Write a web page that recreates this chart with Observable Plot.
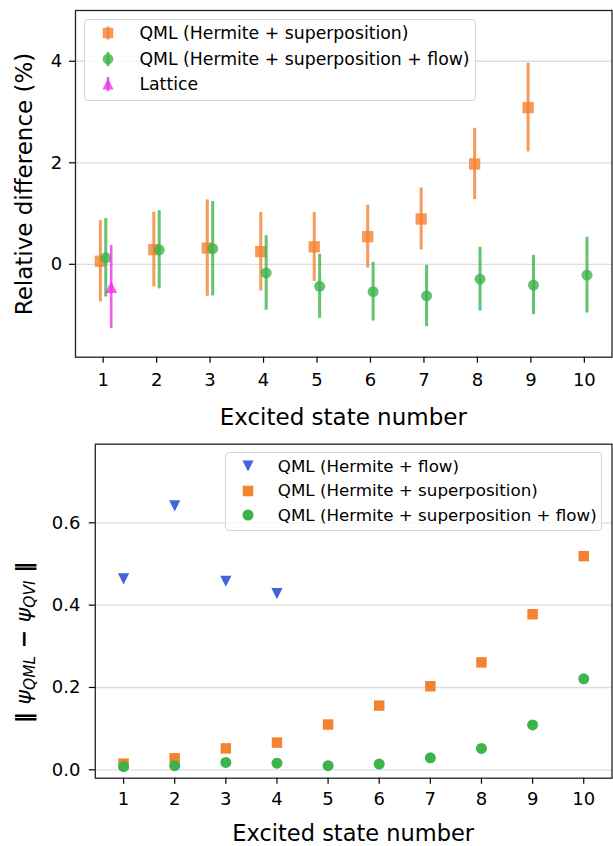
<!DOCTYPE html>
<html><head><meta charset="utf-8">
<script src="https://cdn.jsdelivr.net/npm/d3@7"></script>
<script src="https://cdn.jsdelivr.net/npm/@observablehq/plot@0.6"></script>
<style>
body{margin:0;background:#fff;font-family:"DejaVu Sans",sans-serif;}
#wrap{position:relative;width:613px;height:846px;overflow:hidden;}
#wrap svg.plot{position:absolute;left:0;}
.lg{position:absolute;border:1px solid #d4d4d4;border-radius:4px;background:rgba(255,255,255,0.8);box-sizing:border-box;}
.row{position:absolute;white-space:nowrap;color:#000;line-height:20px;height:20px;}
.sw{position:absolute;overflow:visible;}
</style></head><body><div id="wrap"></div><script>
// ---------- data ----------
const states = [1, 2, 3, 4, 5, 6, 7, 8, 9, 10];
// top panel: relative difference (%) with error bars
const supStates = [1, 2, 3, 4, 5, 6, 7, 8, 9];
const supVal = [0.06, 0.29, 0.32, 0.25, 0.345, 0.545, 0.893, 1.977, 3.087];
const supErr = [0.80, 0.736, 0.95, 0.775, 0.68, 0.62, 0.61, 0.703, 0.874];
const flowStates = [1, 2, 3, 4, 5, 6, 7, 8, 9, 10];
const flowVal = [0.128, 0.286, 0.308, -0.17, -0.434, -0.539, -0.624, -0.293, -0.408, -0.214];
const flowErr = [0.772, 0.77, 0.93, 0.735, 0.63, 0.578, 0.604, 0.628, 0.585, 0.745];
const latStates = [1];
const latVal = [-0.447];
const latErr = [0.82];
const yTicksTop = [0, 2, 4];
// bottom panel: || psi_QML - psi_QVI ||
const hfStates = [1, 2, 3, 4];
const hfVal = [0.464, 0.641, 0.458, 0.428];
const hsVal = [0.015, 0.028, 0.052, 0.066, 0.110, 0.156, 0.203, 0.261, 0.378, 0.519];
const hsfVal = [0.008, 0.010, 0.018, 0.016, 0.010, 0.014, 0.029, 0.052, 0.109, 0.221];
const yTicksBot = [0.0, 0.2, 0.4, 0.6];
const legTop = ["QML (Hermite + superposition)", "QML (Hermite + superposition + flow)", "Lattice"];
const legBot = ["QML (Hermite + flow)", "QML (Hermite + superposition)", "QML (Hermite + superposition + flow)"];

// ---------- style ----------
const ORANGE = "#f58231", GREEN = "#3cb44b", MAGENTA = "#f032e6", BLUE = "#4363d8";
const FONT = "DejaVu Sans";
const OFF = {sup: -0.052, flow: 0.049, lat: 0.15};
const triUp = {draw(ctx, size){const r = Math.sqrt(size/Math.PI); ctx.moveTo(0,-r); ctx.lineTo(r,r); ctx.lineTo(-r,r); ctx.closePath();}};
const triDown = {draw(ctx, size){const r = Math.sqrt(size/Math.PI); ctx.moveTo(0,r); ctx.lineTo(r,-r); ctx.lineTo(-r,-r); ctx.closePath();}};

const supRows = supStates.map((s,i)=>({x: s + OFF.sup, v: supVal[i], lo: supVal[i]-supErr[i], hi: supVal[i]+supErr[i]}));
const flowRows = flowStates.map((s,i)=>({x: s + OFF.flow, v: flowVal[i], lo: flowVal[i]-flowErr[i], hi: flowVal[i]+flowErr[i]}));
const latRows = latStates.map((s,i)=>({x: s + OFF.lat, v: latVal[i], lo: latVal[i]-latErr[i], hi: latVal[i]+latErr[i]}));

const wrap = document.getElementById("wrap");
const TICK_FS = 18;

// ---------- top panel ----------
const TOP_H = 430;
const topSvg = Plot.plot({
  width: 613, height: TOP_H,
  marginLeft: 75, marginRight: 1.5, marginTop: 10, marginBottom: TOP_H - 356.7,
  x: {domain: [0.483, 10.517]},
  y: {domain: [-1.83, 5.0]},
  style: {fontFamily: FONT, background: "transparent", color: "#000", overflow: "visible"},
  marks: [
    Plot.ruleY(yTicksTop, {stroke: "#dddddd", strokeWidth: 1.3}),
    Plot.ruleX(supRows, {x: "x", y1: "lo", y2: "hi", stroke: ORANGE, strokeWidth: 3, strokeOpacity: 0.8}),
    Plot.dot(supRows, {x: "x", y: "v", symbol: "square", r: 6.4, fill: ORANGE, fillOpacity: 0.8, stroke: "none"}),
    Plot.ruleX(flowRows, {x: "x", y1: "lo", y2: "hi", stroke: GREEN, strokeWidth: 3, strokeOpacity: 0.8}),
    Plot.dot(flowRows, {x: "x", y: "v", symbol: "circle", r: 5.5, fill: GREEN, fillOpacity: 0.8, stroke: "none"}),
    Plot.ruleX(latRows, {x: "x", y1: "lo", y2: "hi", stroke: MAGENTA, strokeWidth: 2.6, strokeOpacity: 0.8}),
    Plot.dot(latRows, {x: "x", y: "v", symbol: triUp, r: 5.9, fill: MAGENTA, fillOpacity: 0.8, stroke: "none"}),
    Plot.frame({stroke: "#222", strokeWidth: 1.3}),
    Plot.axisX({ticks: states, tickSize: 6, tickPadding: 10.5, fontSize: TICK_FS, label: null, tickFormat: d => String(d), strokeWidth: 1.2}),
    Plot.axisY({ticks: yTicksTop, tickSize: 6, tickPadding: 7.3, fontSize: TICK_FS, label: null, tickFormat: d => String(d), strokeWidth: 1.2})
  ]
});
topSvg.classList.add("plot");
topSvg.style.top = "0px";
wrap.appendChild(topSvg);
const ts = d3.select(topSvg);
ts.append("text").attr("x", 343.3).attr("y", 416.5 + 8.3).attr("text-anchor", "middle")
  .attr("font-size", 23).attr("font-family", FONT).attr("fill", "#000").text("Excited state number");
ts.append("text").attr("transform", "translate(31.5,184) rotate(-90)").attr("text-anchor", "middle")
  .attr("font-size", 23).attr("font-family", FONT).attr("fill", "#000").text("Relative difference (%)");

// ---------- bottom panel ----------
const BOT_Y = 430, BOT_H = 846 - BOT_Y;
const botSvg = Plot.plot({
  width: 613, height: BOT_H,
  marginLeft: 94.8, marginRight: 1.5, marginTop: 443.7 - BOT_Y, marginBottom: 846 - 777.7,
  x: {domain: [0.447, 10.553]},
  y: {domain: [-0.0204, 0.791]},
  style: {fontFamily: FONT, background: "transparent", color: "#000", overflow: "visible"},
  marks: [
    Plot.ruleY(yTicksBot, {stroke: "#dddddd", strokeWidth: 1.3}),
    Plot.dot(hfStates, {x: d => d, y: (d,i) => hfVal[i], symbol: triDown, r: 5.6, fill: BLUE, stroke: "none"}),
    Plot.dot(states, {x: d => d, y: (d,i) => hsVal[i], symbol: "square", r: 5.9, fill: ORANGE, stroke: "none"}),
    Plot.dot(states, {x: d => d, y: (d,i) => hsfVal[i], symbol: "circle", r: 5.5, fill: GREEN, stroke: "none"}),
    Plot.frame({stroke: "#222", strokeWidth: 1.3}),
    Plot.axisX({ticks: states, tickSize: 6, tickPadding: 8.5, fontSize: TICK_FS, label: null, tickFormat: d => String(d), strokeWidth: 1.2}),
    Plot.axisY({ticks: yTicksBot, tickSize: 6, tickPadding: 8.8, fontSize: TICK_FS, label: null, tickFormat: d => d.toFixed(1), strokeWidth: 1.2})
  ]
});
botSvg.classList.add("plot");
botSvg.style.top = BOT_Y + "px";
wrap.appendChild(botSvg);
const bs = d3.select(botSvg);
bs.append("text").attr("x", 353.2).attr("y", 840.5 - BOT_Y).attr("text-anchor", "middle")
  .attr("font-size", 22.5).attr("font-family", FONT).attr("fill", "#000").text("Excited state number");
const yl = bs.append("text").attr("transform", `translate(31,${642.5 - BOT_Y}) rotate(-90)`).attr("text-anchor", "middle")
  .attr("font-size", 22).attr("font-family", FONT).attr("fill", "#000");
yl.append("tspan").attr("font-weight", "bold").text("\u2016 ");
yl.append("tspan").attr("font-style", "italic").text("\u03c8");
yl.append("tspan").attr("font-style", "italic").attr("font-size", 15.4).attr("dy", 4).text("QML");
yl.append("tspan").attr("dy", -4).attr("font-weight", "bold").text(" \u2212 ");
yl.append("tspan").attr("font-style", "italic").text("\u03c8");
yl.append("tspan").attr("font-style", "italic").attr("font-size", 15.4).attr("dy", 4).text("QVI");
yl.append("tspan").attr("dy", -4).attr("font-weight", "bold").text(" \u2016");

// ---------- legends ----------
function legend(box, rows, fs){
  const b = document.createElement("div");
  b.className = "lg";
  Object.assign(b.style, {left: box.x + "px", top: box.y + "px", width: box.w + "px", height: box.h + "px"});
  wrap.appendChild(b);
  rows.forEach(r => {
    const sw = document.createElementNS("http://www.w3.org/2000/svg", "svg");
    sw.setAttribute("class", "sw"); sw.setAttribute("width", 24); sw.setAttribute("height", 24);
    sw.style.left = (r.mx - 12) + "px"; sw.style.top = (r.cy - 12) + "px";
    sw.innerHTML = r.svg;
    wrap.appendChild(sw);
    const t = document.createElement("div");
    t.className = "row"; t.textContent = r.label;
    Object.assign(t.style, {left: r.tx + "px", top: (r.cy - 10.5) + "px", fontSize: fs + "px"});
    wrap.appendChild(t);
  });
}
const sq = (c, s, o) => `<rect x="${12 - s/2}" y="${12 - s/2}" width="${s}" height="${s}" fill="${c}" fill-opacity="${o}"/>`;
const ci = (c, r, o) => `<circle cx="12" cy="12" r="${r}" fill="${c}" fill-opacity="${o}"/>`;
const vl = (c, h, w) => `<line x1="12" x2="12" y1="${12 - h/2}" y2="${12 + h/2}" stroke="${c}" stroke-width="${w}" stroke-opacity="0.8"/>`;
const tu = (c, r, o) => `<path d="M12,${12 - r}L${12 + r},${12 + r}L${12 - r},${12 + r}Z" fill="${c}" fill-opacity="${o}"/>`;
const td = (c, r, o) => `<path d="M12,${12 + r}L${12 + r},${12 - r}L${12 - r},${12 - r}Z" fill="${c}" fill-opacity="${o}"/>`;

legend({x: 83.7, y: 19.3, w: 392.7, h: 81.4}, [
  {label: legTop[0], mx: 108, tx: 139.4, cy: 33.3, svg: vl(ORANGE, 13, 3) + sq(ORANGE, 10.5, 0.8)},
  {label: legTop[1], mx: 108, tx: 139.4, cy: 59.3, svg: vl(GREEN, 14, 3) + ci(GREEN, 5.3, 0.8)},
  {label: legTop[2], mx: 108, tx: 139.4, cy: 84.3, svg: vl(MAGENTA, 14, 2.6) + tu(MAGENTA, 5.6, 0.8)}
], 17.3);
legend({x: 224.5, y: 452.3, w: 377.3, h: 78.4}, [
  {label: legBot[0], mx: 247.5, tx: 277.8, cy: 466, svg: td(BLUE, 5.5, 1)},
  {label: legBot[1], mx: 247.5, tx: 277.8, cy: 490.7, svg: sq(ORANGE, 10.5, 1)},
  {label: legBot[2], mx: 247.5, tx: 277.8, cy: 515.3, svg: ci(GREEN, 5.5, 1)}
], 16.7);
</script></body></html>
